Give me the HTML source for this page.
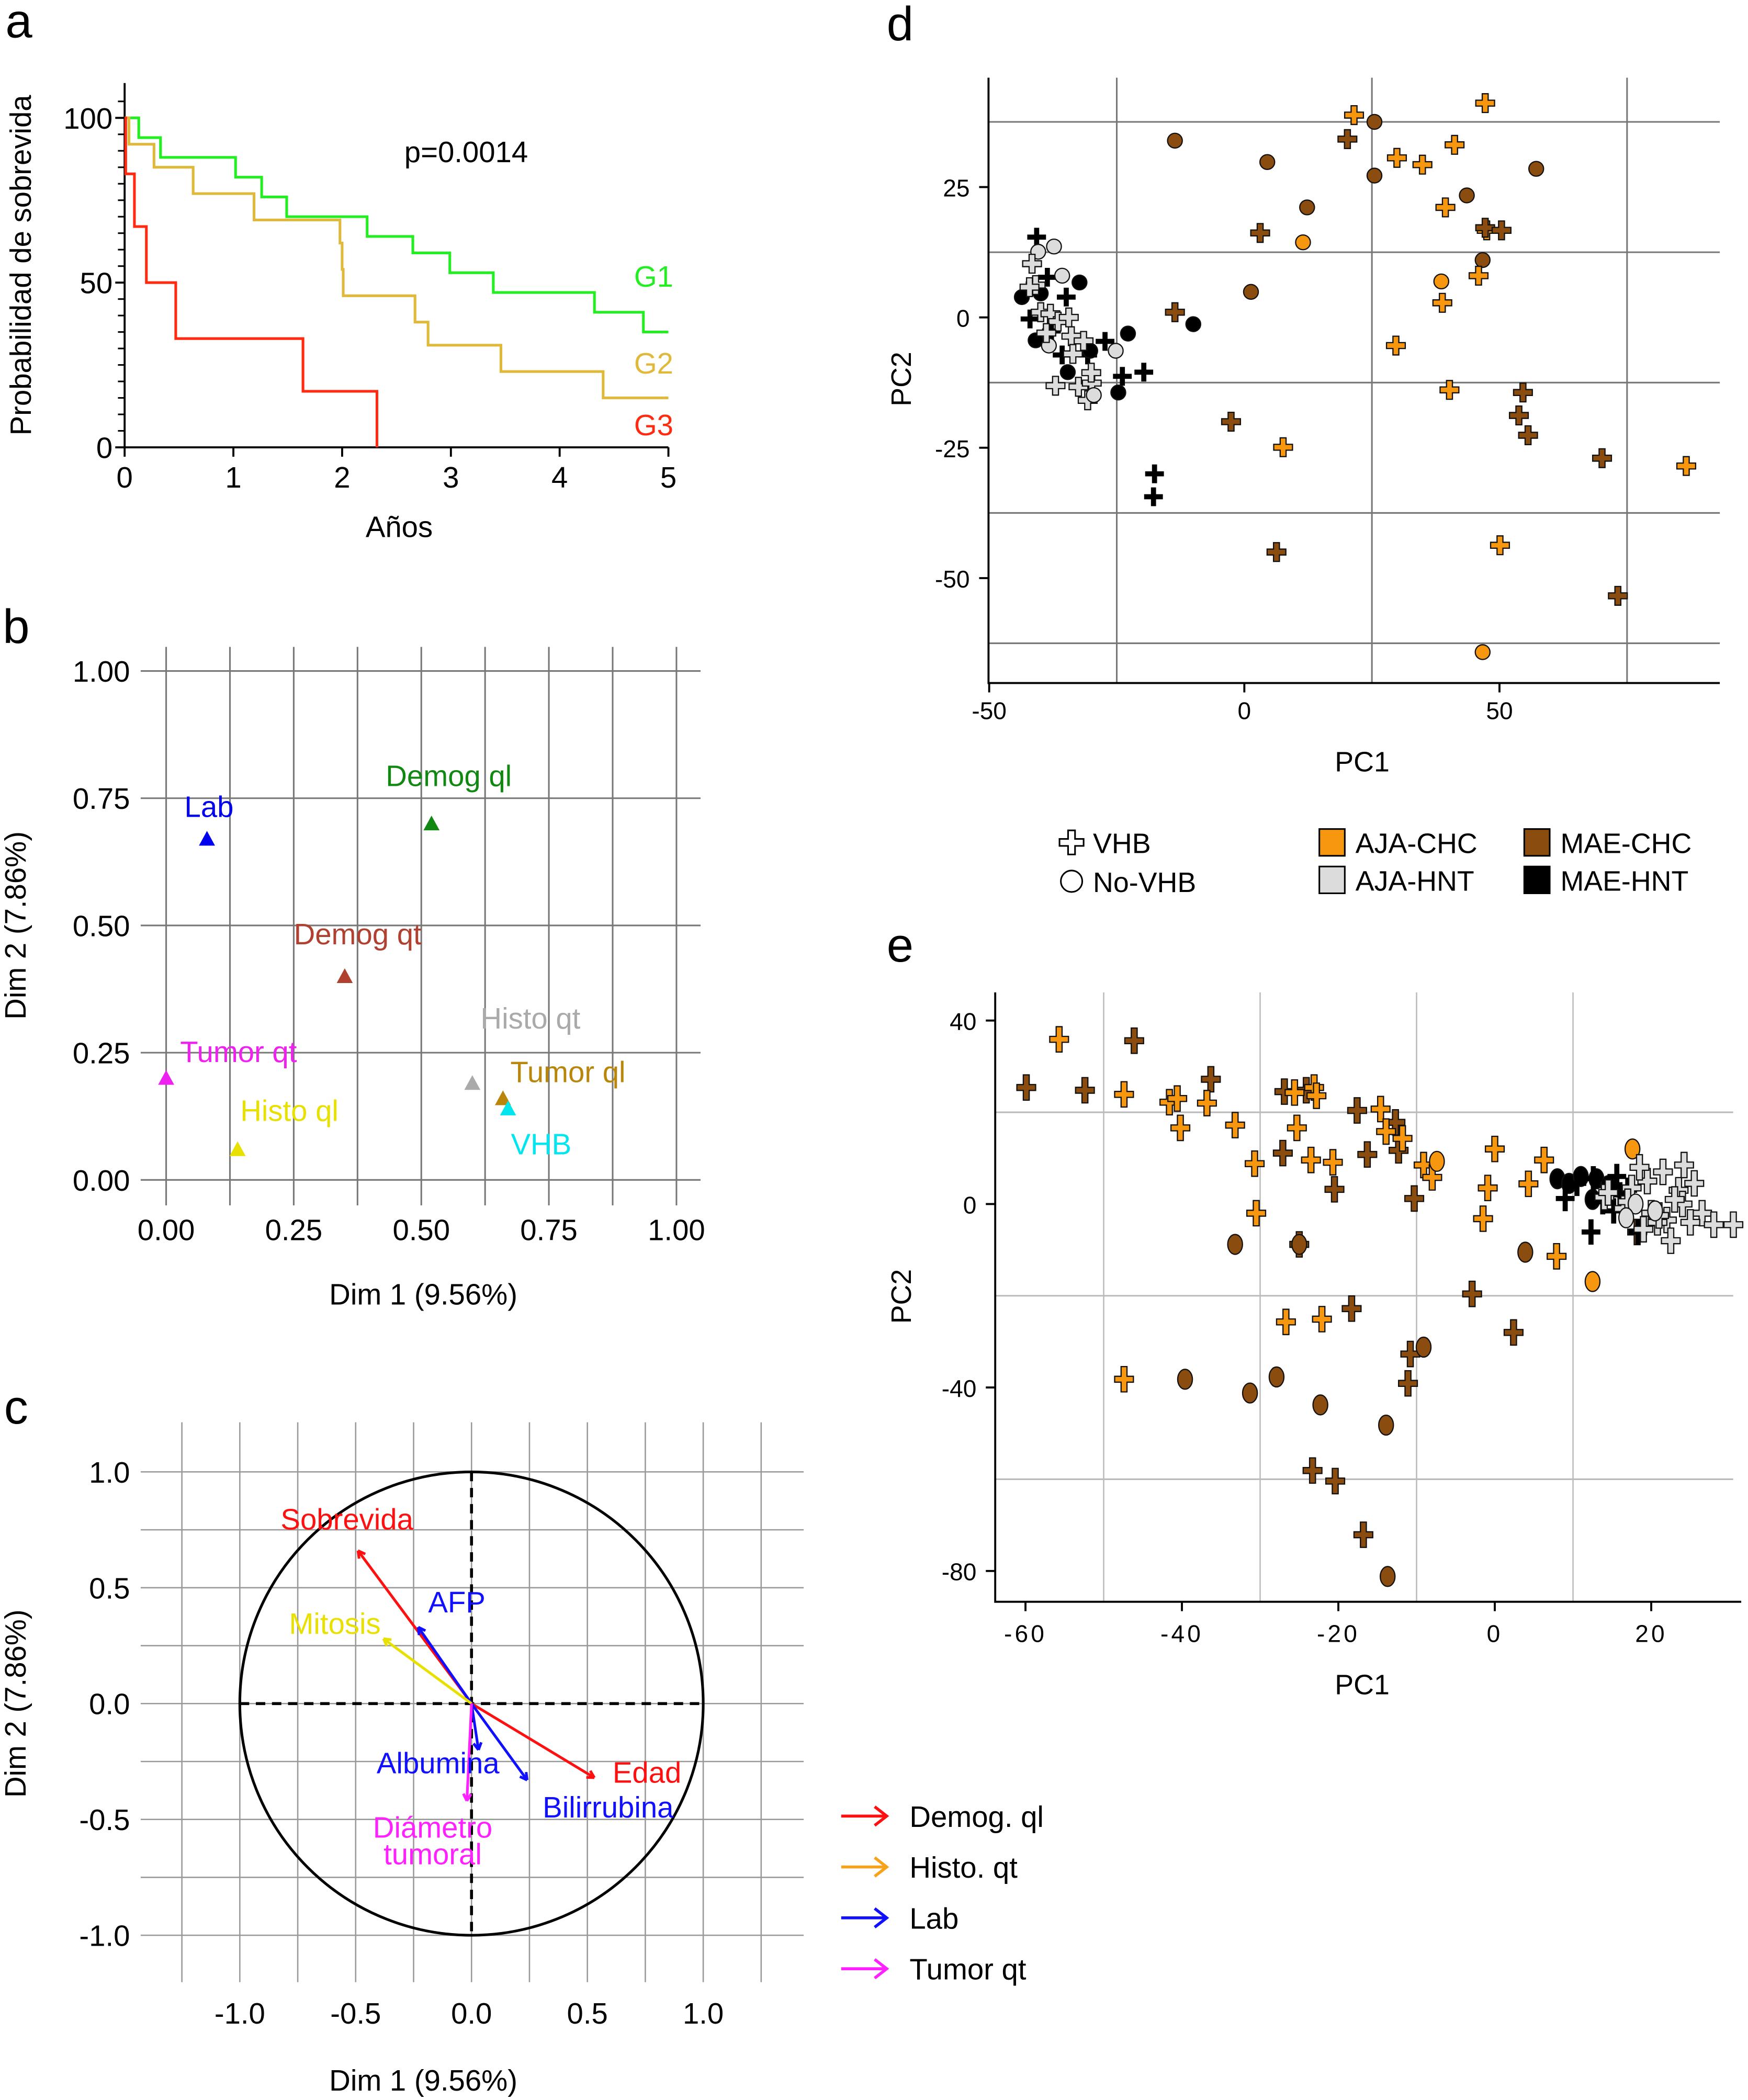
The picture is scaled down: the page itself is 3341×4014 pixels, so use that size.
<!DOCTYPE html>
<html><head><meta charset="utf-8">
<style>
html,body{margin:0;padding:0;background:#fff;}
svg{display:block;}
text{font-family:"Liberation Sans",Arial,sans-serif;}
</style></head>
<body>
<svg id="fig" width="3341" height="4014" viewBox="0 0 1305 1568" xmlns="http://www.w3.org/2000/svg">
<rect width="1305" height="1568" fill="#fff"/>
</svg>
<script>
// ---------- Panel a data ----------
const kmTicksX = [0,1,2,3,4,5];
const kmTicksY = [0,50,100];
const g1Times = [0,0.13,0.33,1.02,1.26,1.49,2.23,2.65,2.99,3.39,4.32,4.77];
const g1Vals  = [100,94,88,82,76,70,64,59,53,47,41,35];
const g2Times = [0,0.04,0.27,0.63,1.19,1.98,2.0,2.01,2.67,2.79,3.46,4.4];
const g2Vals  = [100,92,85,77,69,62,54,46,38,31,23,15];
const g3Times = [0,0.01,0.09,0.2,0.47,1.64,2.32];
const g3Vals  = [100,83,67,50,33,17,0];
const kmEnd = [5,5,2.32];

// ---------- Panel b data ----------
const mcaNames = ["Lab","Demog ql","Demog qt","Histo qt","Tumor ql","VHB","Tumor qt","Histo ql"];
const mcaDim1 = [0.08,0.52,0.35,0.60,0.66,0.67,0.0,0.14];
const mcaDim2 = [0.67,0.70,0.40,0.19,0.16,0.14,0.20,0.06];
const mcaTicks = [0,0.25,0.5,0.75,1.0];
const mcaTickLabels = ["0.00","0.25","0.50","0.75","1.00"];

// ---------- Panel c data ----------
const varNames = ["Sobrevida","AFP","Mitosis","Edad","Bilirrubina","Albumina","Diámetro"];
const varX = [-0.49,-0.23,-0.38,0.53,0.24,0.03,-0.02];
const varY = [0.66,0.33,0.28,-0.32,-0.33,-0.2,-0.42];
const varGroup = ["Demog. ql","Lab","Histo. qt","Demog. ql","Lab","Lab","Tumor qt"];
const corTicks = [-1.0,-0.5,0.0,0.5,1.0];
const corTickLabels = ["-1.0","-0.5","0.0","0.5","1.0"];

// ---------- Panel d data (group: 0 AJA-CHC,1 MAE-CHC,2 AJA-HNT,3 MAE-HNT; shape p=plus,c=circle) ----------
const dX = [-13.6,4.5,12.3,25.5,25.5,43.6,46.7,57.2,1.3, 11.5,38.6,46.7,
 21.5,47.2,29.9,34.9,41.2,39.4,45.9,38.8,29.7,40.2,7.6,50.1,86.6,47.5,
 20.2,3.1,-13.6,-2.6,6.3,47.2,50.4,54.6,53.8,55.6,70.1,73.2,
 -40.7,-38.6,-42,-35.7,-30.7,-27.3,-23.9,-19.7,-17.6,-17.8,-34.9,-37.8,
 -43.6,-39.9,-32.3,-40.9,-34.6,-22.8,-10,-24.7,-30.2,
 -40.4,-37.3,-35.7,-38.3,-25.2,
 -41.6,-40.9,-39.9,-38.0,-36.5,-33.9,-37.0,-32.5,-30.7,-29.9,-30.0,-33.6,-42.1,-38.8,-34.4,-31.5,-29.5];
const dY = [33.9,29.8,21.1,37.5,27.2,23.4,11,28.5,4.9, 14.4,6.9,-64.2,
 38.8,41.1,30.6,29.3,33.1,21.1,8,2.8,-5.4,-13.9,-24.9,-43.7,-28.5,16.7,
 34.2,16.2,1,-20,-45,17.2,16.7,-14.4,-18.8,-22.6,-27,-53.4,
 15.4,7.7,-0.3,-7.2,-7.2,-4.6,-11.3,-10.5,-30,-34.4,3.9,-2.6,
 3.9,4.6,6.7,-4.4,-10.5,-3.1,-1.3,-14.4,-6.4,
 12.6,13.6,8,-5.4,-6.4,
 10.3,6.2,1.0,0.7,-0.8,-3.6,-13.1,-13.3,-15.9,-12.6,-10.6,-7.0,5.8,-3.0,0.0,-4.5,-14.9];
const dGrp = [1,1,1,1,1,1,1,1,1, 0,0,0,
 0,0,0,0,0,0,0,0,0,0,0,0,0,0,
 1,1,1,1,1,1,1,1,1,1,1,1,
 3,3,3,3,3,3,3,3,3,3,3,3,
 3,3,3,3,3,3,3,3,3,
 2,2,2,2,2,
 2,2,2,2,2,2,2,2,2,2,2,2,2,2,2,2,2];
const dShape = "ccccccccccccppppppppppppppppppppppppppppppppppppppccccccccccccccpppppppppppppppp";
const dTicksX = [-50,0,50];
const dTicksY = [25,0,-25,-50];

// ---------- Panel e data ----------
const eX = [-59.9,-52.4,-46.1,-36.3,-26.9,-27.1,-24.1,-20.5,-17.6,-16.3,-12.7,-12.3,-10.3,-2.9,-25,-18.3,-10.8,-11.1,-23.3,-20.4,-16.8,2.4,18.2,
 -55.7,-47.4,-41.6,-40.2,-33.2,-30.7,-30.5,-25.3,-23.1,-22.8,-26.7,-22.1,-20.7,-14.6,-13.9,-11.8,-9.1,-8,0,-0.9,-1.5,4.3,6.3,7.9,-47.4,-40.6,-36.8,-25.6,-23.5,
 -33.2,-39.6,-31.3,-27.9,-22.3,-13.9,-9.1,-13.7,3.9,-25.0,
 -7.4,17.6,12.5,
 8.0,9.5,11.0,13.0,14.5,12.5,16.0,9.0,
 12.3,18.3,15.6,12.6,10.5,13.8,15.2,17.0,
 14.0,17.5,19.5,21.5,23.5,25.5,20.0,22.0,24.0,26.5,28.0,18.5,16.5,14.5,20.8,23.0,19.0,22.5,25.0,17.0,21.0,30.5,24.2,
 18.0,20.5,16.8];
const eY = [25.4,24.8,35.6,27.2,24.5,11.1,24.8,3.2,20.4,10.8,17.8,11.7,1.2,-19.6,-8.8,-22.8,-32.7,-39.1,-58.1,-60.4,-72.1,-28,-6.1,
 35.9,23.9,22.2,16.6,17.2,8.8,-2,16.6,25.4,23.6,-25.7,-25.1,9.1,20.7,15.8,14.3,8.5,5.8,12,3.5,-3.2,4.4,9.6,-11.4,-38.2,23.0,22.0,24.3,9.6,
 -8.8,-38.2,-41.2,-37.7,-43.8,-48.2,-31.2,-81.2,-10.5,-8.8,
 9.3,12,-16.9,
 5.5,4.5,6.0,5.5,4.0,1.0,2.0,1.2,
 -6.1,-6.1,6.0,5.5,4.5,0.5,-1.5,3.0,
 1.5,3.5,5.0,7.0,3.0,4.5,-2.0,-3.5,0.0,-2.0,-4.5,8.0,-1.0,2.5,-4.0,1.0,-5.5,-8.0,-4.0,0.5,-2.5,-4.5,8.5,
 0.0,-1.5,-3.0];
const eGrp = [1,1,1,1,1,1,1,1,1,1,1,1,1,1,1,1,1,1,1,1,1,1,1,
 0,0,0,0,0,0,0,0,0,0,0,0,0,0,0,0,0,0,0,0,0,0,0,0,0,0,0,0,0,
 1,1,1,1,1,1,1,1,1,1,
 0,0,0,
 3,3,3,3,3,3,3,3,
 3,3,3,3,3,3,3,3,
 2,2,2,2,2,2,2,2,2,2,2,2,2,2,2,2,2,2,2,2,2,2,2,
 2,2,2];
const eShape = "ppppppppppppppppppppppppppppppppppppppppppppppppppppcccccccccccccccccccpppppppppppppppppppppppppppppppppccc";
const eTicksX = [-60,-40,-20,0,20];
const eTicksY = [40,0,-40,-80];

const NS = "http://www.w3.org/2000/svg";
const svg = document.getElementById("fig");
function el(tag, attrs, parent){
  const e = document.createElementNS(NS, tag);
  for (const k in attrs) e.setAttribute(k, attrs[k]);
  (parent||svg).appendChild(e);
  return e;
}
function txt(s, x, y, size, fill, anchor, parent, extra){
  const t = el("text", Object.assign({x:x,y:y,"font-size":size,fill:fill||"#000","text-anchor":anchor||"middle"}, extra||{}), parent);
  t.textContent = s;
  return t;
}
function grp(name){
  const g = el("g", {});
  
  
  return g;
}

// ================= Panel a =================
(function(){
  const g = grp("panel-a-survival-chart");
  const X = t => 93 + t*81.2;
  const Y = v => 334 - v*2.46;
  const lt = txt("a", 14, 28, 36, "#000", "middle", g);
   
  const ax = el("path", {d:`M93 62 V334 H499`, stroke:"#000","stroke-width":1.5, fill:"none"}, g);
   
  for (let v=0; v<=105; v+=5){
    el("line",{x1:88,x2:93,y1:Y(v),y2:Y(v),stroke:"#000","stroke-width":1.2},g);
  }
  kmTicksY.forEach(v=>{
    el("line",{x1:86,x2:93,y1:Y(v),y2:Y(v),stroke:"#000","stroke-width":1.5},g);
    const t = txt(String(v), 84, Y(v)+8, 22, "#000", "end", g);
     
  });
  kmTicksX.forEach(v=>{
    el("line",{x1:X(v),x2:X(v),y1:334,y2:341,stroke:"#000","stroke-width":1.5},g);
    const t = txt(String(v), X(v), 364, 22, "#000", "middle", g);
     
  });
  const series = [[g1Times,g1Vals,"#22ee22","g1-curve",kmEnd[0]],[g2Times,g2Vals,"#e0b83a","g2-curve",kmEnd[1]],[g3Times,g3Vals,"#ff2a10","g3-curve",kmEnd[2]]];
  series.forEach(s=>{
    const [ts,vs,c,n,end] = s;
    let d = `M${X(ts[0])} ${Y(vs[0])}`;
    for (let i=1;i<ts.length;i++){ d += ` H${X(ts[i])} V${Y(vs[i])}`; }
    if (vs[vs.length-1] > 0) d += ` H${X(end)}`;
    const p = el("path",{d:d,stroke:c,"stroke-width":2,fill:"none"},g);
     
  });
  [["G1",206,"#22ee22"],["G2",271,"#e0b83a"],["G3",317,"#ff2a10"]].forEach(l=>{
    const t = txt(l[0], 488, l[1]+8, 22, l[2], "middle", g);
     
  });
  const p = txt("p=0.0014", 348, 121, 22, "#000", "middle", g);
   
  const xl = txt("Años", 298, 401, 22, "#000", "middle", g);
   
  const yl = txt("Probabilidad de sobrevida", 0, 0, 22, "#000", "middle", g, {transform:"translate(23,198) rotate(-90)"});
   
})();

// ================= Panel b =================
(function(){
  const g = grp("panel-b-mca-chart");
  const X = v => 124 + v*381;
  const Y = v => 881 - v*380;
  const lt = txt("b", 12, 480, 36, "#000", "middle", g);
   
  for (let v=0; v<=1.0001; v+=0.125){
    el("line",{x1:X(v),x2:X(v),y1:483,y2:900,stroke:"#777","stroke-width":1.2},g);
  }
  mcaTicks.forEach((v,i)=>{
    el("line",{x1:105,x2:523,y1:Y(v),y2:Y(v),stroke:"#777","stroke-width":1.2},g);
    const t = txt(mcaTickLabels[i], 97, Y(v)+8, 22, "#000", "end", g);
     
    const t2 = txt(mcaTickLabels[i], X(v), 926, 22, "#000", "middle", g);
     
  });
  const colors = ["#0000ee","#118811","#b04030","#aaaaaa","#b8860b","#00e5ee","#ee22ee","#e8e000"];
  const lx = [156,335,267,396,424,404,178,216];
  const ly = [602,579,697,760,800,854,785,829];
  mcaNames.forEach((n,i)=>{
    const x = X(mcaDim1[i]), y = Y(mcaDim2[i]);
    const m = el("path",{d:`M${x} ${y-6} L${x+6} ${y+5} L${x-6} ${y+5} Z`,fill:colors[i]},g);
     
    const t = txt(n, lx[i], ly[i]+8, 22, colors[i], "middle", g);
     
  });
  const xl = txt("Dim 1 (9.56%)", 316, 974, 22, "#000", "middle", g);
   
  const yl = txt("Dim 2 (7.86%)", 0, 0, 22, "#000", "middle", g, {transform:"translate(19,691) rotate(-90)"});
   
})();

// ================= Panel c =================
(function(){
  const g = grp("panel-c-correlation-circle");
  const X = v => 352 + v*173;
  const Y = v => 1272 - v*173;
  const lt = txt("c", 12, 1063, 36, "#000", "middle", g);
   
  for (let v=-1.25; v<=1.2501; v+=0.25){
    el("line",{x1:X(v),x2:X(v),y1:1062,y2:1480,stroke:"#999","stroke-width":1},g);
  }
  for (let v=-1; v<=1.0001; v+=0.25){
    el("line",{x1:105,x2:600,y1:Y(v),y2:Y(v),stroke:"#999","stroke-width":1},g);
  }
  corTicks.forEach((v,i)=>{
    const t = txt(corTickLabels[i], 97, Y(v)+8, 22, "#000", "end", g);
     
    const t2 = txt(corTickLabels[i], X(v), 1511, 22, "#000", "middle", g);
     
  });
  const c = el("circle",{cx:X(0),cy:Y(0),r:173,fill:"none",stroke:"#000","stroke-width":2},g);
   
  el("line",{x1:X(-1),x2:X(1),y1:Y(0),y2:Y(0),stroke:"#000","stroke-width":2.2,"stroke-dasharray":"7,5"},g);
  el("line",{x1:X(0),x2:X(0),y1:Y(1),y2:Y(-1),stroke:"#000","stroke-width":2.2,"stroke-dasharray":"7,5"},g);
  const gc = {"Demog. ql":"#ff1010","Histo. qt":"#e8e000","Lab":"#1010ff","Tumor qt":"#ff20ff"};
  varNames.forEach((n,i)=>{
    const x2 = X(varX[i]), y2 = Y(varY[i]), col = gc[varGroup[i]];
    const x1 = X(0), y1 = Y(0);
    const a = Math.atan2(y2-y1,x2-x1), h=6;
    const ln = el("line",{x1:x1,y1:y1,x2:x2,y2:y2,stroke:col,"stroke-width":2},g);
     
    el("path",{d:`M${x2} ${y2} L${x2-h*Math.cos(a-0.5)} ${y2-h*Math.sin(a-0.5)} M${x2} ${y2} L${x2-h*Math.cos(a+0.5)} ${y2-h*Math.sin(a+0.5)}`,stroke:col,"stroke-width":2,fill:"none"},g);
  });
  const labs = [["Sobrevida",259,1134,"#ff1010"],["AFP",341,1196,"#1010ff"],["Mitosis",250,1212,"#e8e000"],["Edad",483,1323,"#ff1010"],["Albumina",327,1316,"#1010ff"],["Bilirrubina",454,1349,"#1010ff"],["Diámetro",323,1364,"#ff20ff"],["tumoral",323,1384,"#ff20ff"]];
  labs.forEach(l=>{
    const t = txt(l[0], l[1], l[2]+8, 22, l[3], "middle", g);
     
  });
  const legN = ["Demog. ql","Histo. qt","Lab","Tumor qt"];
  const legC = ["#ff1010","#f7a21b","#1010ff","#ff20ff"];
  legN.forEach((n,i)=>{
    const y = 1356 + i*38;
    el("path",{d:`M628 ${y} H661 M653 ${y-7} L662 ${y} L653 ${y+7}`,stroke:legC[i],"stroke-width":2.2,fill:"none"},g);
    const t = txt(n, 679, y+8, 22, "#000", "start", g);
     
  });
  const xl = txt("Dim 1 (9.56%)", 316, 1561, 22, "#000", "middle", g);
   
  const yl = txt("Dim 2 (7.86%)", 0, 0, 22, "#000", "middle", g, {transform:"translate(19,1272) rotate(-90)"});
   
})();

// ---------- markers ----------
const fillC = ["#f7960f","#8b4c0f","#dcdcdc","#000"];
function plusPath(x,y,L,w,sy){
  const Ly=L*sy, wy=w;
  return `M${x-w} ${y-Ly} H${x+w} V${y-wy} H${x+L} V${y+wy} H${x+w} V${y+Ly} H${x-w} V${y+wy} H${x-L} V${y-wy} H${x-w} Z`;
}
function marker(g, x, y, grpIdx, shape, sy, name){
  let m;
  if (shape === "p"){
    if (grpIdx === 3) m = el("path",{d:plusPath(x,y,7,1.9,sy),fill:"#000"},g);
    else m = el("path",{d:plusPath(x,y,7,2.2,sy),fill:fillC[grpIdx],stroke:"#111","stroke-width":0.9},g);
  } else {
    m = el("ellipse",{cx:x,cy:y,rx:5.5,ry:5.5*sy,fill:fillC[grpIdx],stroke:"#111","stroke-width":0.9},g);
  }
  
  
}

// ================= Panel d =================
(function(){
  const g = grp("panel-d-pca-scatter");
  const X = v => 929 + v*3.81;
  const Y = v => 237 - v*3.893;
  const lt = txt("d", 672, 30, 36, "#000", "middle", g);
   
  [-25,25,75].forEach(v=> el("line",{x1:X(v),x2:X(v),y1:58,y2:510,stroke:"#777","stroke-width":1.2},g));
  [37.5,12.5,-12.5,-37.5,-62.5].forEach(v=> el("line",{x1:738,x2:1284,y1:Y(v),y2:Y(v),stroke:"#777","stroke-width":1.2},g));
  const ax = el("path",{d:"M738 58 V510 H1284",stroke:"#000","stroke-width":1.5,fill:"none"},g);
   
  dTicksX.forEach(v=>{
    el("line",{x1:X(v),x2:X(v),y1:510,y2:517,stroke:"#000","stroke-width":1.5},g);
    const t = txt(String(v), X(v), 537, 18, "#000", "middle", g);
     
  });
  dTicksY.forEach(v=>{
    el("line",{x1:731,x2:738,y1:Y(v),y2:Y(v),stroke:"#000","stroke-width":1.5},g);
    const t = txt(String(v), 724, Y(v)+7, 18, "#000", "end", g);
     
  });
  for (let i=0;i<dX.length;i++) marker(g, X(dX[i]), Y(dY[i]), dGrp[i], dShape[i], 1, 'point');
  const xl = txt("PC1", 1017, 576, 21, "#000", "middle", g);
   
  const yl = txt("PC2", 0, 0, 21, "#000", "middle", g, {transform:"translate(680,283) rotate(-90)"});
   
  // legend
  const lg = grp("legend");
  el("path",{d:plusPath(800,629,9,2.6,1),fill:"#fff",stroke:"#000","stroke-width":1.2},lg);
  txt("VHB", 816, 637, 21, "#000", "start", lg);
  el("circle",{cx:800,cy:658,r:8,fill:"#fff",stroke:"#000","stroke-width":1.2},lg);
  txt("No-VHB", 816, 666, 21, "#000", "start", lg);
  const lgN = ["AJA-CHC","MAE-CHC","AJA-HNT","MAE-HNT"];
  const lgX = [985,1138,985,1138], lgY = [629,629,657,657];
  lgN.forEach((n,i)=>{
    const c = [fillC[0],fillC[1],fillC[2],fillC[3]][i];
    el("rect",{x:lgX[i],y:lgY[i]-10,width:19,height:20,fill:c,stroke:"#000","stroke-width":1.2},lg);
    const t = txt(n, lgX[i]+27, lgY[i]+8, 21, "#000", "start", lg);
     
  });
})();

// ================= Panel e =================
(function(){
  const g = grp("panel-e-pca-scatter");
  const X = v => 1116 + v*5.84;
  const Y = v => 899 - v*3.425;
  const lt = txt("e", 672, 718, 36, "#000", "middle", g);
   
  [-50,-30,-10,10].forEach(v=> el("line",{x1:X(v),x2:X(v),y1:741,y2:1196,stroke:"#bbb","stroke-width":1},g));
  [20,-20,-60].forEach(v=> el("line",{x1:743,x2:1294,y1:Y(v),y2:Y(v),stroke:"#bbb","stroke-width":1.2},g));
  const ax = el("path",{d:"M743 741 V1196 H1300",stroke:"#000","stroke-width":1.5,fill:"none"},g);
   
  eTicksX.forEach(v=>{
    el("line",{x1:X(v),x2:X(v),y1:1196,y2:1203,stroke:"#000","stroke-width":1.5},g);
    const t = txt(String(v), X(v), 1226, 18, "#000", "middle", g, {"letter-spacing":"2"});
     
  });
  eTicksY.forEach(v=>{
    el("line",{x1:736,x2:743,y1:Y(v),y2:Y(v),stroke:"#000","stroke-width":1.5},g);
    const t = txt(String(v), 729, Y(v)+7, 18, "#000", "end", g);
     
  });
  for (let i=0;i<eX.length;i++) marker(g, X(eX[i]), Y(eY[i]), eGrp[i], eShape[i], 1.35, 'point');
  const xl = txt("PC1", 1017, 1265, 21, "#000", "middle", g);
   
  const yl = txt("PC2", 0, 0, 21, "#000", "middle", g, {transform:"translate(680,968) rotate(-90)"});
   
})();
</script>
</body></html>
